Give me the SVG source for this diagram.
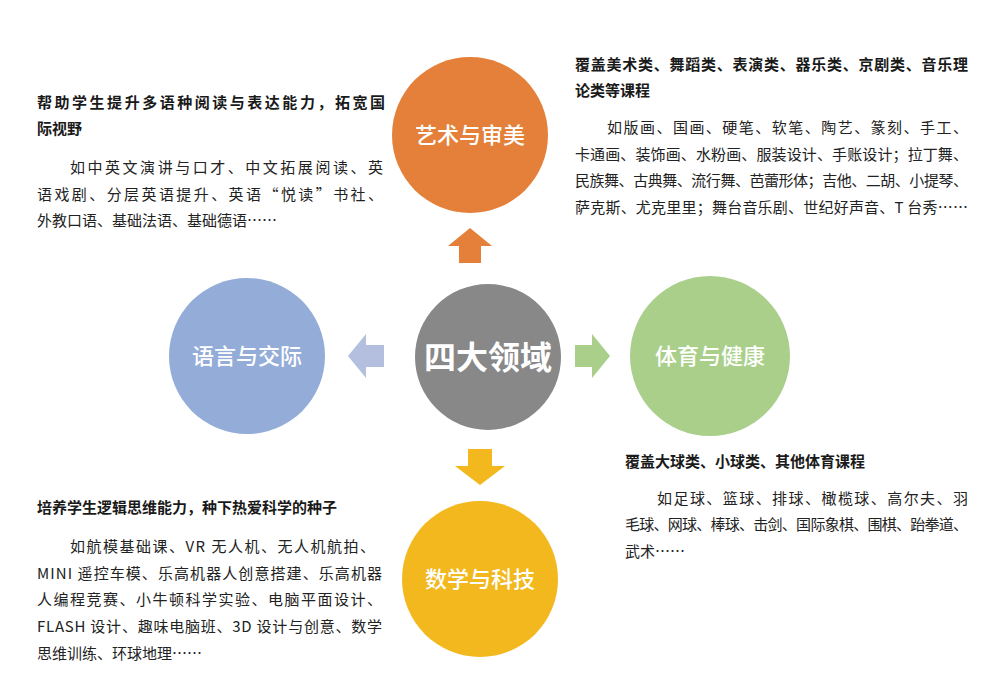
<svg xmlns="http://www.w3.org/2000/svg" width="1000" height="696" viewBox="0 0 1000 696">
<style>
.h{font-family:"Noto Sans CJK SC",sans-serif;font-size:15px;font-weight:bold;fill:#1a1a1a}
.b{font-family:"Noto Sans CJK SC",sans-serif;font-size:15px;fill:#222}
.c{font-family:"Noto Sans CJK SC",sans-serif;font-size:22px;font-weight:500;fill:#fff;text-anchor:middle}
</style>
<rect width="1000" height="696" fill="#fff"/>
<g id="connectors">
<polygon points="470,228 492,246 481,246 481,263 459,263 459,246 448,246" fill="#e4803a"/>
<polygon points="348,356 366,334 366,345 384,345 384,367 366,367 366,378" fill="#b4bfdf"/>
<polygon points="610,356 592,334 592,345 575,345 575,367 592,367 592,378" fill="#a9cf8a"/>
<polygon points="480,485 505,466 492,466 492,449 468,449 468,466 455,466" fill="#f2b81d"/>
</g>
<g id="center"><circle cx="488" cy="357" r="73" fill="#888"/><text class="c" x="488" y="369" style="font-size:32px;font-weight:bold">四大领域</text></g>
<g id="art"><circle cx="470" cy="135" r="78" fill="#e4803a"/><text class="c" x="470" y="143">艺术与审美</text></g>
<g id="lang"><circle cx="247" cy="356" r="78" fill="#94acd8"/><text class="c" x="247" y="364">语言与交际</text></g>
<g id="sport"><circle cx="710" cy="356" r="80" fill="#a9cf8a"/><text class="c" x="710" y="364">体育与健康</text></g>
<g id="math"><circle cx="480" cy="579" r="78" fill="#f2b81d"/><text class="c" x="480" y="587">数学与科技</text></g>
<g id="lang-text">
<text class="h" x="37" y="108" textLength="348">帮助学生提升多语种阅读与表达能力，拓宽国</text>
<text class="h" x="37" y="134">际视野</text>
<text class="b" x="70" y="173" textLength="313">如中英文演讲与口才、中文拓展阅读、英</text>
<text class="b" x="37" y="200" textLength="346">语戏剧、分层英语提升、英语“悦读”书社、</text>
<text class="b" x="37" y="226">外教口语、基础法语、基础德语……</text>
</g>
<g id="art-text">
<text class="h" x="575" y="70" textLength="393">覆盖美术类、舞蹈类、表演类、器乐类、京剧类、音乐理</text>
<text class="h" x="575" y="96">论类等课程</text>
<text class="b" x="607" y="133" textLength="361">如版画、国画、硬笔、软笔、陶艺、篆刻、手工、</text>
<text class="b" x="575" y="160" textLength="393">卡通画、装饰画、水粉画、服装设计、手账设计；拉丁舞、</text>
<text class="b" x="575" y="186" textLength="393">民族舞、古典舞、流行舞、芭蕾形体；吉他、二胡、小提琴、</text>
<text class="b" x="575" y="213" textLength="393">萨克斯、尤克里里；舞台音乐剧、世纪好声音、T 台秀……</text>
</g>
<g id="sport-text">
<text class="h" x="625" y="467">覆盖大球类、小球类、其他体育课程</text>
<text class="b" x="657" y="504" textLength="311">如足球、篮球、排球、橄榄球、高尔夫、羽</text>
<text class="b" x="625" y="530" textLength="343">毛球、网球、棒球、击剑、国际象棋、围棋、跆拳道、</text>
<text class="b" x="625" y="557">武术……</text>
</g>
<g id="math-text">
<text class="h" x="37" y="513">培养学生逻辑思维能力，种下热爱科学的种子</text>
<text class="b" x="70" y="552" textLength="305">如航模基础课、VR 无人机、无人机航拍、</text>
<text class="b" x="37" y="579" textLength="345">MINI 遥控车模、乐高机器人创意搭建、乐高机器</text>
<text class="b" x="37" y="605" textLength="345">人编程竞赛、小牛顿科学实验、电脑平面设计、</text>
<text class="b" x="37" y="632" textLength="345">FLASH 设计、趣味电脑班、3D 设计与创意、数学</text>
<text class="b" x="37" y="659">思维训练、环球地理……</text>
</g>
</svg>
